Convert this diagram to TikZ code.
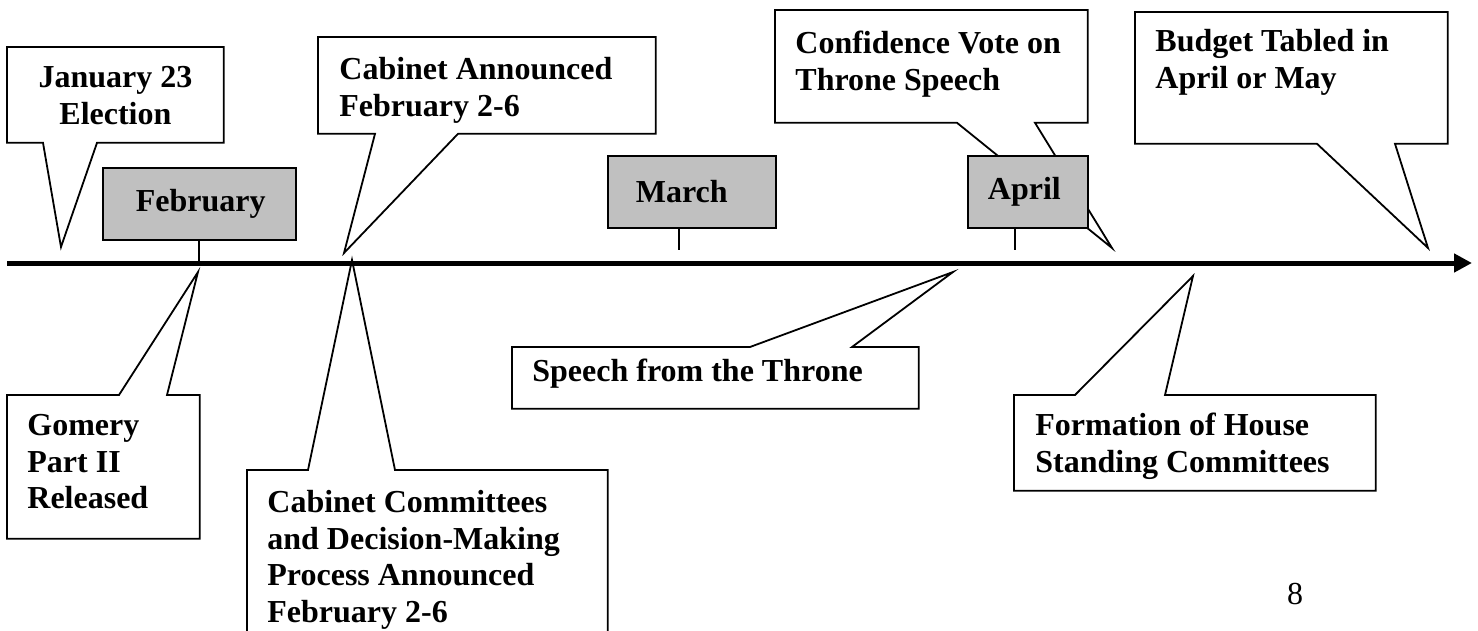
\documentclass[tikz,border=0pt]{standalone}
\usepackage{fontspec}
\setmainfont{Liberation Serif}
\usepackage{tikz}
\usetikzlibrary{positioning}
\usetikzlibrary{calc}
\usetikzlibrary{arrows.meta}
\definecolor{monthgray}{RGB}{192,192,192}
\tikzset{
    callbox/.style={inner sep=0pt, anchor=north west},
    calltext/.style={inner sep=0pt, align=left, font=\bfseries\fontsize{16}{18.3}\selectfont},
    callout/.style={draw, line width=0.9pt, line join=miter},
    month/.style={draw, line width=0.9pt, fill=monthgray, inner ysep=0pt, align=left, anchor=north west, font=\bfseries\fontsize{16}{18.3}\selectfont},
    timeline/.style={line width=2.5pt, -{Triangle[length=9pt,width=9pt]}},
}

\begin{document}
\begin{tikzpicture}[x=0.5pt,y=-0.5pt]
            \useasboundingbox (0,0) rectangle (1478,631);

            \coordinate (axL) at (7,263);
            \coordinate (axR) at (1472,263);
            \draw[timeline] (axL) -- (axR);

            \coordinate (janTip)  at (61,247);
            \coordinate (cabATip) at (344,253);
            \coordinate (confTip) at (1112,248);
            \coordinate (budTip)  at (1428,248);
            \coordinate (gomTip)  at (198,272);
            \coordinate (cabCTip) at (352,260);
            \coordinate (spTip)   at (953,272);
            \coordinate (formTip) at (1193,276);

            \node[callbox, minimum width=108pt,   minimum height=47.5pt] (jan)  at (7,47)     {};
            \node[callbox, minimum width=168.5pt, minimum height=48pt]   (cabA) at (318,37)   {};
            \node[callbox, minimum width=156pt,   minimum height=56pt]   (conf) at (775,10)   {};
            \node[callbox, minimum width=156pt,   minimum height=65.5pt] (bud)  at (1135,12)  {};
            \node[callbox, minimum width=96pt,    minimum height=71.5pt] (gom)  at (7,395)    {};
            \node[callbox, minimum width=180pt,   minimum height=95pt]   (cabC) at (247,470)  {};
            \node[callbox, minimum width=203pt,   minimum height=30.5pt] (sp)   at (512,347)  {};
            \node[callbox, minimum width=180.5pt, minimum height=47.5pt] (form) at (1014,395) {};

            % pointers hang from the lower edge
            \draw[callout] (jan.north west) -- (jan.north east) -- (jan.south east) -- (97,0 |- jan.south) -- (janTip) -- (43,0 |- jan.south) -- (jan.south west) -- cycle;
            \draw[callout] (cabA.north west) -- (cabA.north east) -- (cabA.south east) -- (458,0 |- cabA.south) -- (cabATip) -- (375,0 |- cabA.south) -- (cabA.south west) -- cycle;
            \draw[callout] (conf.north west) -- (conf.north east) -- (conf.south east) -- (1035,0 |- conf.south) -- (confTip) -- (957,0 |- conf.south) -- (conf.south west) -- cycle;
            \draw[callout] (bud.north west) -- (bud.north east) -- (bud.south east) -- (1395,0 |- bud.south) -- (budTip) -- (1317,0 |- bud.south) -- (bud.south west) -- cycle;
            % pointers rise from the upper edge
            \draw[callout] (gom.south west) -- (gom.north west) -- (119,0 |- gom.north) -- (gomTip) -- (167,0 |- gom.north) -- (gom.north east) -- (gom.south east) -- cycle;
            \draw[callout] (cabC.south west) -- (cabC.north west) -- (308,0 |- cabC.north) -- (cabCTip) -- (395,0 |- cabC.north) -- (cabC.north east) -- (cabC.south east) -- cycle;
            \draw[callout] (sp.south west) -- (sp.north west) -- (750,0 |- sp.north) -- (spTip) -- (852,0 |- sp.north) -- (sp.north east) -- (sp.south east) -- cycle;
            \draw[callout] (form.south west) -- (form.north west) -- (1075,0 |- form.north) -- (formTip) -- (1165,0 |- form.north) -- (form.north east) -- (form.south east) -- cycle;

            \node[calltext, align=center, below=9.5pt of jan.north] (janT) {January 23\\Election};
            \node[calltext, below right=10pt and 10.5pt of cabA.north west] (cabAT) {Cabinet Announced\\February 2-6};
            \node[calltext, below right=10.5pt and 10pt of conf.north west] (confT) {Confidence Vote on\\Throne Speech};
            \node[calltext, below right=8.5pt and 10pt of bud.north west] (budT) {Budget Tabled in\\April or May};
            \node[calltext, below right=9.5pt and 10pt of gom.north west] (gomT) {Gomery\\Part II\\Released};
            \node[calltext, below right=10pt and 10pt of cabC.north west] (cabCT) {Cabinet Committees\\and Decision-Making\\Process Announced\\February 2-6};
            \node[calltext, below right=6pt and 10pt of sp.north west] (spT) {Speech from the Throne};
            \node[calltext, below right=9pt and 10.5pt of form.north west] (formT) {Formation of House\\Standing Committees};

            \node[month, inner xsep=16.5pt, text width=63.5pt, minimum height=36pt] (feb)   at (102,167) {February};
            \node[month, inner xsep=14pt,   text width=56pt,   minimum height=36pt] (march) at (607,155) {March};
            \node[month, inner xsep=10pt,   text width=40pt,   minimum height=36pt] (april) at (967,155) {April};

            \coordinate (febT)   at (199,261);
            \coordinate (marchT) at (679,250);
            \coordinate (aprilT) at (1015,250);
            \draw[line width=0.9pt] (febT |- feb.south) -- (febT);
            \draw[line width=0.9pt] (marchT |- march.south) -- (marchT);
            \draw[line width=0.9pt] (aprilT |- april.south) -- (aprilT);

            \node[inner sep=0pt, font=\fontsize{16}{18.3}\selectfont] (pg) at (1295,594) {8};
        \end{tikzpicture}
\end{document}
